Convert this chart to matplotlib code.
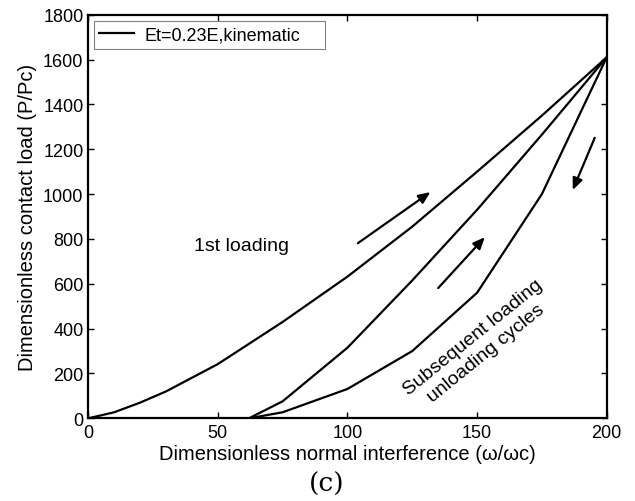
import numpy as np
import matplotlib.pyplot as plt

plt.rcParams['font.family'] = ['Liberation Sans', 'DejaVu Sans']

# first loading curve
x_load = [0, 10, 20, 30, 50, 75, 100, 125, 150, 175, 200]
y_load = [0, 27, 70, 120, 242, 430, 632, 855, 1100, 1350, 1610]

# subsequent loading
x_reload = [62, 75, 100, 125, 150, 175, 200]
y_reload = [0, 76, 315, 615, 930, 1265, 1610]

# unloading
x_unload = [62, 75, 100, 125, 150, 175, 200]
y_unload = [0, 27, 131, 300, 560, 1000, 1610]

# arrows (start, end)
arrows = [((104, 781), (132, 1009)),
          ((135, 581), (153, 808)),
          ((195.4, 1251), (186.9, 1018))]

fig = plt.figure(figsize=(6.35, 5.02), dpi=100)
ax = fig.add_axes([0.139, 0.1647, 0.8164, 0.804])

ax.plot(x_load, y_load, 'k', lw=1.6, label='Et=0.23E,kinematic')
ax.plot(x_reload, y_reload, 'k', lw=1.6)
ax.plot(x_unload, y_unload, 'k', lw=1.6)

for (x0, y0), (x1, y1) in arrows:
    ax.annotate('', xy=(x1, y1), xytext=(x0, y0),
                arrowprops=dict(arrowstyle='-|>,head_length=0.7,head_width=0.3',
                                color='k', lw=1.6, shrinkA=0, shrinkB=0,
                                mutation_scale=10))

ax.text(59, 770, '1st loading', fontsize=14, ha='center', va='center')
ax.text(151, 328, 'Subsequent loading\nunloading cycles', fontsize=14,
        ha='center', va='center', rotation=39, rotation_mode='anchor',
        multialignment='center')

ax.set_xlim(0, 200)
ax.set_ylim(0, 1800)
ax.set_xticks(np.arange(0, 201, 50))
ax.set_yticks(np.arange(0, 1801, 200))
ax.tick_params(direction='in', top=True, right=True, length=4, width=1,
               labelsize=13)
ax.tick_params(axis='x', pad=4)
ax.tick_params(axis='y', pad=3.5)
for s in ax.spines.values():
    s.set_linewidth(1.6)

ax.set_xlabel('Dimensionless normal interference (ω/ωc)', fontsize=14.5, labelpad=2)
ax.set_ylabel('Dimensionless contact load (P/Pc)', fontsize=14.5, labelpad=4)

leg = ax.legend(loc='upper left', bbox_to_anchor=(0.011, 0.5, 0.4456, 0.4836),
                mode='expand', borderaxespad=0, fontsize=13, borderpad=0.3,
                handlelength=1.9, handletextpad=0.6, fancybox=False,
                framealpha=1)
leg.get_frame().set_edgecolor('#808080')
leg.get_frame().set_linewidth(0.8)

fig.text(0.515, 0.036, '(c)', fontsize=19, family='DejaVu Serif',
         ha='center', va='center')

fig.savefig('out.png', dpi=100)
